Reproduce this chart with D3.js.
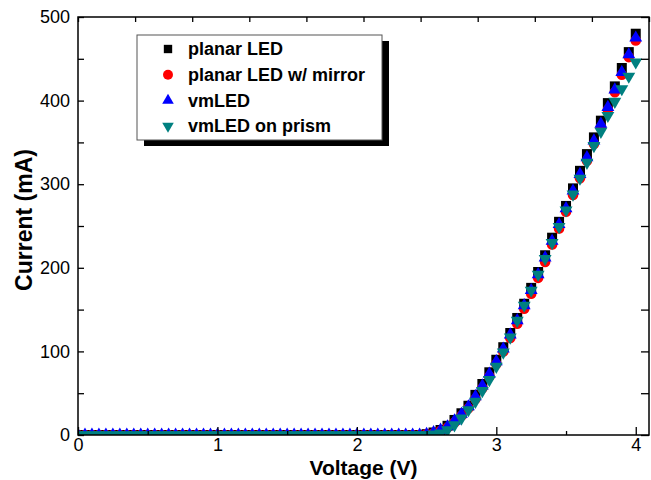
<!DOCTYPE html>
<html>
<head>
<meta charset="utf-8">
<script src="https://cdn.jsdelivr.net/npm/d3@7"></script>
<style>
  body { margin: 0; background: #fff; }
  svg { display: block; font-family: "Liberation Sans", Arial, sans-serif; }
</style>
</head>
<body>
<div id="chart"></div>
<script>
// Voltage steps (V)
const voltage = [
  0.00, 0.05, 0.10, 0.15, 0.20, 0.25, 0.30, 0.35, 0.40, 0.45,
  0.50, 0.55, 0.60, 0.65, 0.70, 0.75, 0.80, 0.85, 0.90, 0.95,
  1.00, 1.05, 1.10, 1.15, 1.20, 1.25, 1.30, 1.35, 1.40, 1.45,
  1.50, 1.55, 1.60, 1.65, 1.70, 1.75, 1.80, 1.85, 1.90, 1.95,
  2.00, 2.05, 2.10, 2.15, 2.20, 2.25, 2.30, 2.35, 2.40, 2.45,
  2.50, 2.55, 2.60, 2.65, 2.70, 2.75, 2.80, 2.85, 2.90, 2.95,
  3.00, 3.05, 3.10, 3.15, 3.20, 3.25, 3.30, 3.35, 3.40, 3.45,
  3.50, 3.55, 3.60, 3.65, 3.70, 3.75, 3.80, 3.85, 3.90, 3.95,
  4.00
];

// Current (mA) per series
const planarLED = [
  0, 0, 0, 0, 0, 0, 0, 0, 0, 0,
  0, 0, 0, 0, 0, 0, 0, 0, 0, 0,
  0, 0, 0, 0, 0, 0, 0, 0, 0, 0,
  0, 0, 0, 0, 0, 0, 0, 0, 0, 0,
  0, 0, 0, 0, 0, 0, 0, 0, 0, 0,
  1, 3, 6, 11, 18, 26, 35, 48, 61, 75,
  90, 105, 122, 140, 157, 176, 195, 215, 236, 255,
  274, 295, 316, 336, 356, 376, 397, 417, 439, 458,
  480
];
const planarMirror = [
  0, 0, 0, 0, 0, 0, 0, 0, 0, 0,
  0, 0, 0, 0, 0, 0, 0, 0, 0, 0,
  0, 0, 0, 0, 0, 0, 0, 0, 0, 0,
  0, 0, 0, 0, 0, 0, 0, 0, 0, 0,
  0, 0, 0, 0, 0, 0, 0, 0, 0, 0,
  1, 2, 5, 9, 15, 23, 32, 43, 56, 70,
  85, 100, 116, 133, 151, 169, 188, 207, 228, 247,
  267, 287, 307, 328, 348, 368, 389, 410, 431, 452,
  472
];
const vmLED = [
  0, 0, 0, 0, 0, 0, 0, 0, 0, 0,
  0, 0, 0, 0, 0, 0, 0, 0, 0, 0,
  0, 0, 0, 0, 0, 0, 0, 0, 0, 0,
  0, 0, 0, 0, 0, 0, 0, 0, 0, 0,
  0, 0, 0, 0, 0, 0, 0, 0, 0, 0,
  1, 3, 6, 10, 17, 25, 34, 46, 59, 73,
  88, 103, 120, 137, 155, 173, 192, 212, 232, 252,
  271, 292, 312, 332, 352, 372, 392, 413, 434, 455,
  475
];
const vmPrism = [
  0, 0, 0, 0, 0, 0, 0, 0, 0, 0,
  0, 0, 0, 0, 0, 0, 0, 0, 0, 0,
  0, 0, 0, 0, 0, 0, 0, 0, 0, 0,
  0, 0, 0, 0, 0, 0, 0, 0, 0, 0,
  0, 0, 0, 0, 0, 0, 0, 0, 0, 0,
  0, 1, 2, 6, 12, 20, 30, 40, 53, 66,
  82, 99, 117, 137, 155, 173, 192, 211, 230, 249,
  269, 288, 307, 326, 346, 363, 382, 399, 414, 429,
  446
];

const seriesNames = ["planar LED", "planar LED w/ mirror", "vmLED", "vmLED on prism"];
const xTicks = [0, 1, 2, 3, 4];
const yTicks = [0, 100, 200, 300, 400, 500];

const series = [
  { name: seriesNames[0], values: planarLED, color: "#000000", shape: "square" },
  { name: seriesNames[1], values: planarMirror, color: "#ff0000", shape: "circle" },
  { name: seriesNames[2], values: vmLED, color: "#0000ff", shape: "up" },
  { name: seriesNames[3], values: vmPrism, color: "#008080", shape: "down" }
];

const W = 651, H = 480;
const plot = { left: 78, right: 649, top: 17, bottom: 435 };

const svg = d3.select("#chart").append("svg")
  .attr("width", W).attr("height", H);

const x = d3.scaleLinear().domain([0, 4.095]).range([plot.left, plot.right]);
const y = d3.scaleLinear().domain([0, 500]).range([plot.bottom, plot.top]);
const xTop = d3.scaleLinear().domain([0, 10]).range([plot.left, plot.right]);

const symbolFor = (shape, big) => {
  if (shape === "square") return d3.symbol(d3.symbolSquare, big ? 100 : 70)();
  if (shape === "circle") return d3.symbol(d3.symbolCircle, big ? 88 : 78)();
  return d3.symbol(d3.symbolTriangle, big ? 72 : 58)();
};

svg.append("clipPath").attr("id", "clip")
  .append("rect")
  .attr("x", plot.left).attr("y", plot.top)
  .attr("width", plot.right - plot.left).attr("height", plot.bottom - plot.top);

// markers
const marks = svg.append("g").attr("clip-path", "url(#clip)");
series.forEach(s => {
  marks.append("g")
    .selectAll("path")
    .data(voltage.map((v, i) => [v, s.values[i]]))
    .join("path")
    .attr("d", symbolFor(s.shape, true))
    .attr("fill", s.color)
    .attr("transform", d => `translate(${x(d[0])},${y(d[1])})${s.shape === "down" ? " rotate(180)" : ""}`);
});

// axes
const axisStyle = g => {
  g.select(".domain").remove();
  g.selectAll("line").attr("stroke", "#000").attr("stroke-width", 1.3);
  g.selectAll("text").attr("fill", "#000").style("font-size", "18px");
};

svg.append("g")
  .attr("transform", `translate(0,${plot.bottom})`)
  .call(d3.axisBottom(x).tickValues(xTicks).tickSize(-8).tickPadding(3).tickFormat(d3.format("d")))
  .call(axisStyle);
svg.append("g")
  .attr("transform", `translate(0,${plot.bottom})`)
  .call(d3.axisBottom(x).tickValues([0.5, 1.5, 2.5, 3.5]).tickSize(-4).tickFormat(""))
  .call(axisStyle);
svg.append("g")
  .attr("transform", `translate(0,${plot.top})`)
  .call(d3.axisTop(xTop).ticks(10).tickSize(-5).tickFormat(""))
  .call(axisStyle);
svg.append("g")
  .attr("transform", `translate(${plot.left},0)`)
  .call(d3.axisLeft(y).tickValues(yTicks).tickSize(-6).tickPadding(8))
  .call(axisStyle);
svg.append("g")
  .attr("transform", `translate(${plot.left},0)`)
  .call(d3.axisLeft(y).tickValues([50, 150, 250, 350, 450]).tickSize(-6).tickFormat(""))
  .call(axisStyle);
svg.append("g")
  .attr("transform", `translate(${plot.right},0)`)
  .call(d3.axisRight(y).ticks(10).tickSize(-8).tickFormat(""))
  .call(axisStyle);

svg.append("rect")
  .attr("x", plot.left).attr("y", plot.top)
  .attr("width", plot.right - plot.left).attr("height", plot.bottom - plot.top)
  .attr("fill", "none").attr("stroke", "#000").attr("stroke-width", 1.5);

// axis titles
svg.append("text")
  .attr("x", (plot.left + plot.right) / 2).attr("y", 475)
  .attr("text-anchor", "middle")
  .style("font-size", "21px").style("font-weight", "bold")
  .text("Voltage (V)");
svg.append("text")
  .attr("transform", `translate(32,${(plot.top + plot.bottom) / 2 - 6}) rotate(-90)`)
  .attr("text-anchor", "middle")
  .style("font-size", "23px").style("font-weight", "bold")
  .text("Current (mA)");

// legend
const lg = { x: 137, y: 35, w: 245, h: 105 };
svg.append("rect")
  .attr("x", lg.x + 7).attr("y", lg.y + 6)
  .attr("width", lg.w).attr("height", lg.h)
  .attr("fill", "#000");
svg.append("rect")
  .attr("x", lg.x).attr("y", lg.y)
  .attr("width", lg.w).attr("height", lg.h)
  .attr("fill", "#fff").attr("stroke", "#555").attr("stroke-width", 1);

const rows = svg.append("g").selectAll("g")
  .data(series)
  .join("g")
  .attr("transform", (d, i) => `translate(168,${49 + i * 25.7})`);
rows.append("path")
  .attr("d", d => symbolFor(d.shape, false))
  .attr("fill", d => d.color)
  .attr("transform", d => d.shape === "down" ? "rotate(180)" : null);
rows.append("text")
  .attr("x", 20).attr("dy", "0.35em")
  .style("font-size", "18px").style("font-weight", "bold")
  .text(d => d.name);
</script>
</body>
</html>
